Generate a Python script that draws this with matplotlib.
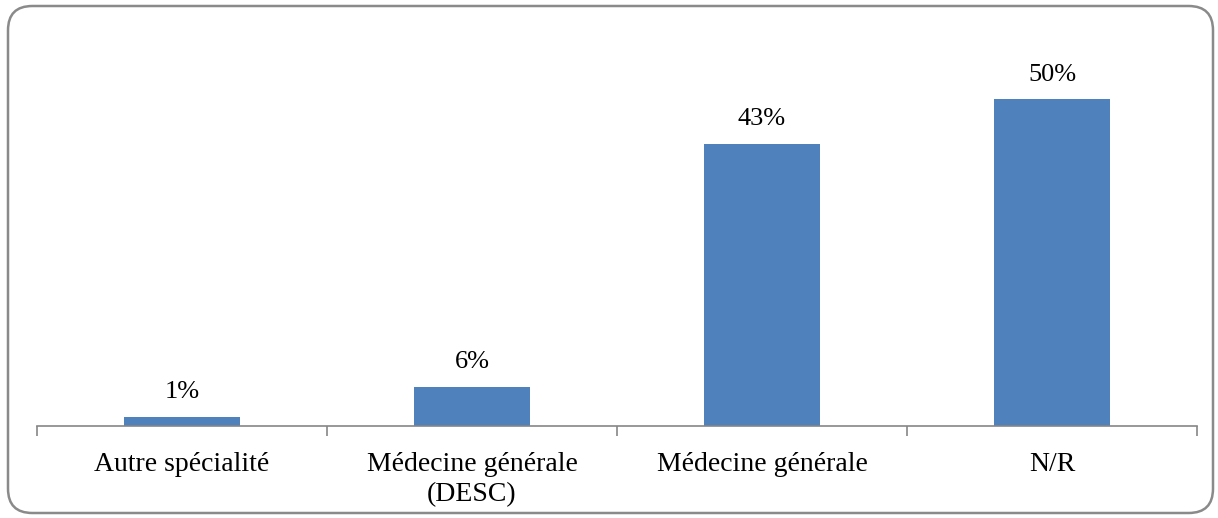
import matplotlib
matplotlib.use("Agg")
import matplotlib.pyplot as plt
from matplotlib.patches import FancyBboxPatch

categories = ["Autre spécialité", "Médecine générale\n(DESC)", "Médecine générale", "N/R"]
values = [1.4, 6.0, 43.2, 50.0]
labels = ["1%", "6%", "43%", "50%"]

plt.rcParams["font.family"] = ["Liberation Serif", "DejaVu Serif"]

fig = plt.figure(figsize=(12.18, 5.18), dpi=100)
ax = fig.add_axes([0.0304, 0.1776, 0.9524, 0.757])

x = range(len(categories))
bars = ax.bar(x, values, width=0.4, color="#4F81BD")
for b, lab in zip(bars, labels):
    ax.text(b.get_x() + b.get_width() / 2, b.get_height() + 2.1, lab,
            ha="center", va="bottom", fontsize=19)

ax.set_xlim(-0.5, len(categories) - 0.5)
ax.set_ylim(0, 60)
ax.set_yticks([])
ax.set_xticks(list(x))
ax.set_xticklabels(categories, fontsize=20, linespacing=1.25)
ax.tick_params(axis="x", which="major", length=0, pad=19)
ax.set_xticks([i - 0.5 for i in range(len(categories) + 1)], minor=True)
ax.tick_params(axis="x", which="minor", length=7, color="#868686", width=1.2)
for s in ["top", "right", "left"]:
    ax.spines[s].set_visible(False)
ax.spines["bottom"].set_color("#868686")
ax.spines["bottom"].set_linewidth(1.2)

# rounded grey frame around the whole chart
frame = FancyBboxPatch((8 / 1218, 5 / 518), 1205 / 1218, 507 / 518,
                       boxstyle="round,pad=0,rounding_size=0.02",
                       transform=fig.transFigure, fill=False,
                       edgecolor="#8a8a8a", linewidth=1.8,
                       mutation_aspect=1218 / 518)
fig.patches.append(frame)

fig.savefig("out.png", dpi=100)
